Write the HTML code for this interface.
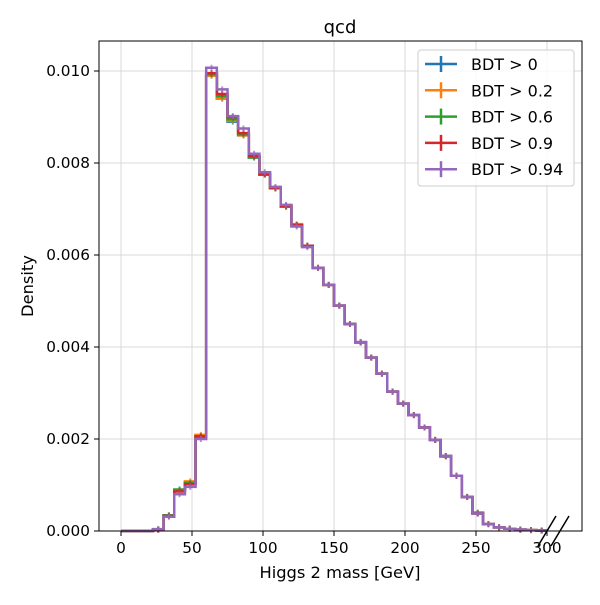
<!DOCTYPE html>
<html><head><meta charset="utf-8"><style>
body{margin:0;background:#fff}
svg text{font-family:"DejaVu Sans","Liberation Sans",sans-serif;fill:#000}
</style></head><body>
<svg id="chart" width="600" height="600" xmlns="http://www.w3.org/2000/svg">
<rect x="0" y="0" width="600" height="600" fill="#fff"/>
<g id="grid"></g>
<g id="series"></g>
<rect x="99" y="41" width="483" height="490" fill="none" stroke="#000" stroke-width="1"/>
<g id="axes"></g>
<text x="340" y="33" font-size="18" text-anchor="middle">qcd</text>
<text x="340" y="578" font-size="16.3" text-anchor="middle">Higgs 2 mass [GeV]</text>
<text x="33" y="286" font-size="16.3" text-anchor="middle" transform="rotate(-90 33 286)">Density</text>
<g stroke="#000" stroke-width="1.5">
<line x1="538" y1="546" x2="556" y2="516"/><line x1="551" y1="546" x2="569" y2="516"/>
</g>
<g id="legend"></g>
</svg>
<script>
const binWidth = 7.5;
const xTicks = [0,50,100,150,200,250,300];
const yTicks = [0,0.002,0.004,0.006,0.008,0.010];
const yTickLabels = ["0.000","0.002","0.004","0.006","0.008","0.010"];
const labels = ["BDT > 0","BDT > 0.2","BDT > 0.6","BDT > 0.9","BDT > 0.94"];
const colors = ["#1f77b4","#ff7f0e","#2ca02c","#d62728","#9467bd"];
const s0 = [0,0,0,0.00003,0.00034,0.0009,0.00105,0.00207,0.0099,0.0094,0.0089,0.0086,0.00812,0.00775,0.00745,0.00705,0.00665,0.0062,0.00572,0.00535,0.0049,0.0045,0.0041,0.00377,0.00342,0.00303,0.00277,0.00252,0.00225,0.00198,0.00163,0.0012,0.00074,0.00038,0.00015,0.00008,0.00005,0.00003,0.00002,0.00001];
const s1 = [0,0,0,0.00003,0.00033,0.00088,0.00108,0.00209,0.0099,0.0094,0.00892,0.0086,0.00815,0.00775,0.00745,0.00707,0.00667,0.0062,0.00572,0.00535,0.0049,0.0045,0.0041,0.00377,0.00342,0.00303,0.00277,0.00252,0.00225,0.00198,0.00163,0.0012,0.00074,0.00039,0.00015,0.00008,0.00005,0.00003,0.00002,0.00001];
const s2 = [0,0,0,0.00003,0.00034,0.0009,0.00105,0.00205,0.00993,0.00945,0.00895,0.00862,0.00812,0.00775,0.00745,0.00705,0.00665,0.0062,0.00572,0.00535,0.0049,0.0045,0.0041,0.00377,0.00342,0.00303,0.00277,0.00252,0.00225,0.00198,0.00163,0.0012,0.00074,0.0004,0.00015,0.00008,0.00005,0.00003,0.00002,0.00001];
const s3 = [0,0,0,0.00003,0.00033,0.00086,0.00102,0.00206,0.00995,0.0095,0.009,0.00865,0.00815,0.00775,0.00745,0.00707,0.00665,0.0062,0.00572,0.00535,0.0049,0.0045,0.0041,0.00377,0.00342,0.00303,0.00277,0.00252,0.00225,0.00198,0.00162,0.0012,0.00074,0.00038,0.00015,0.00008,0.00005,0.00003,0.00002,0.00001];
const s4 = [0,0,0,0.00004,0.00031,0.0008,0.00096,0.002,0.01007,0.0096,0.00902,0.00875,0.0082,0.0078,0.00748,0.00709,0.00662,0.00617,0.00572,0.00535,0.0049,0.0045,0.00411,0.00377,0.00342,0.00303,0.00277,0.00252,0.00225,0.00198,0.00163,0.0012,0.00074,0.00038,0.00015,0.00008,0.00005,0.00003,0.00002,0.00001];
const seriesData = [s0,s1,s2,s3,s4];

const NS="http://www.w3.org/2000/svg";
const X = v => 121 + v*1.42;
const Y = v => 531 - v*46000;
function mk(tag, attrs, parent){const e=document.createElementNS(NS,tag);for(const k in attrs)e.setAttribute(k,attrs[k]);parent.appendChild(e);return e;}
const grid=document.getElementById('grid'), axes=document.getElementById('axes'), ser=document.getElementById('series'), leg=document.getElementById('legend');
xTicks.forEach(t=>{
  const g=mk('line',{x1:X(t),x2:X(t),y1:41,y2:531,stroke:'#d9d9d9','stroke-width':1},grid);
  
  
  const tk=mk('line',{x1:X(t),x2:X(t),y1:531,y2:536,stroke:'#000'},axes);
  
  
  const tx=mk('text',{x:X(t),y:553,'font-size':15.3,'text-anchor':'middle'},axes);
  tx.textContent=t;
  
  
});
yTicks.forEach((t,i)=>{
  const g=mk('line',{x1:99,x2:582,y1:Y(t),y2:Y(t),stroke:'#d9d9d9','stroke-width':1},grid);
  
  
  const tk=mk('line',{x1:94,x2:99,y1:Y(t),y2:Y(t),stroke:'#000'},axes);
  
  
  const tx=mk('text',{x:90,y:Y(t)+5,'font-size':15.3,'text-anchor':'end'},axes);
  tx.textContent=yTickLabels[i];
  
  
});
seriesData.forEach((arr,si)=>{
  let d='M'+X(0)+','+Y(0);
  arr.forEach((v,i)=>{d+=' L'+X(i*binWidth)+','+Y(v)+' L'+X((i+1)*binWidth)+','+Y(v);});
  const p=mk('path',{d:d,fill:'none',stroke:colors[si],'stroke-width':2.5},ser);
  
  
  arr.forEach((v,i)=>{
    if(v<=0)return;
    const cx=X((i+0.5)*binWidth);
    const e=mk('line',{x1:cx,x2:cx,y1:Y(v)-3,y2:Y(v)+3,stroke:colors[si],'stroke-width':2,opacity:0.7},ser);
    
    
  });
});
mk('rect',{x:418,y:50,width:156,height:136,rx:3,fill:'#fff','fill-opacity':0.8,stroke:'#ccc'},leg);
labels.forEach((l,i)=>{
  const y=64+i*26.3;
  const g=mk('g',{},leg);
  
  
  mk('line',{x1:425,x2:457,y1:y,y2:y,stroke:colors[i],'stroke-width':2.5},g);
  mk('line',{x1:441,x2:441,y1:y-8,y2:y+8,stroke:colors[i],'stroke-width':2.5},g);
  const t=mk('text',{x:471,y:y+6,'font-size':16},g);
  t.textContent=l;
});
</script>
</body></html>
